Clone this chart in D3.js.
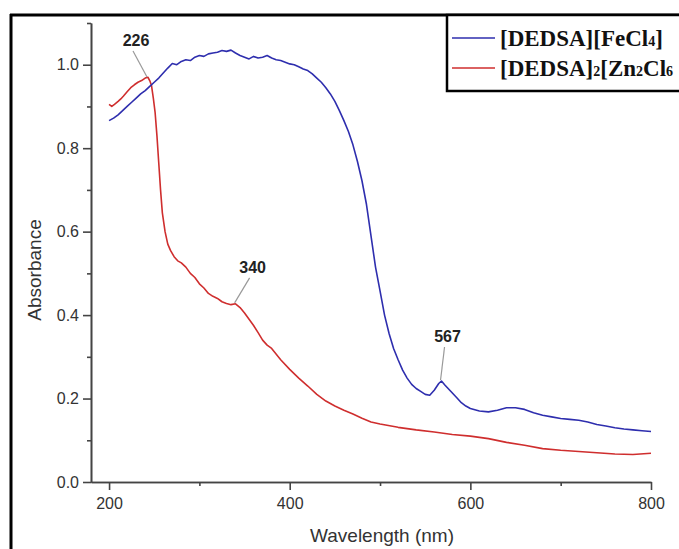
<!DOCTYPE html>
<html>
<head>
<meta charset="utf-8">
<script src="https://cdn.jsdelivr.net/npm/d3@7"></script>
<style>
  body { margin: 0; background: #fff; }
  svg { display: block; }
</style>
</head>
<body>
<svg id="chart" width="679" height="549"></svg>
<script>
//-- data --//
var feWave = [200,205,210,215,220,225,230,235,240,245,250,255,260,265,270,275,280,285,290,295,300,305,310,315,320,325,330,335,340,345,350,355,360,365,370,375,380,385,390,395,400,405,410,415,420,425,430,435,440,445,450,455,460,465,470,475,480,485,490,495,500,505,510,515,520,525,530,535,540,545,550,555,560,565,568,572,578,585,590,595,600,610,620,630,640,650,660,670,680,690,700,710,720,730,740,750,760,770,780,790,800];
var feAbs  = [.866,.872,.880,.890,.900,.910,.920,.930,.938,.948,.958,.968,.980,.992,1.003,1.000,1.008,1.012,1.010,1.018,1.022,1.020,1.026,1.028,1.030,1.034,1.032,1.035,1.028,1.022,1.018,1.014,1.020,1.016,1.018,1.022,1.016,1.012,1.010,1.006,1.002,1.000,.995,.990,.986,.978,.968,.958,.945,.930,.912,.890,.866,.840,.808,.768,.722,.665,.590,.515,.458,.400,.356,.320,.293,.268,.249,.234,.224,.217,.210,.208,.220,.236,.242,.232,.218,.202,.190,.182,.176,.170,.168,.172,.178,.178,.174,.166,.160,.156,.152,.150,.148,.144,.138,.134,.130,.127,.125,.123,.121];

var znWave = [200,203,206,210,213,216,220,224,228,232,236,240,243,245,247,249,251,253,255,257,259,262,265,268,272,276,280,285,290,295,300,305,310,315,320,325,330,335,340,345,350,355,360,365,370,375,380,390,400,410,420,430,440,450,460,470,480,490,500,520,540,560,580,600,620,640,660,680,700,720,740,760,780,800];
var znAbs  = [.905,.900,.905,.912,.918,.925,.935,.945,.952,.958,.962,.968,.970,.962,.950,.920,.885,.830,.765,.700,.645,.600,.570,.555,.540,.530,.525,.515,.500,.490,.475,.465,.452,.445,.440,.432,.428,.425,.427,.418,.405,.390,.375,.358,.340,.328,.320,.293,.270,.249,.230,.210,.194,.182,.172,.163,.153,.144,.139,.131,.125,.120,.114,.110,.104,.095,.088,.080,.076,.073,.070,.067,.066,.069];

var seriesNames = ["[DEDSA][FeCl4]", "[DEDSA]2[Zn2Cl6"];
var seriesColors = ["#2e2eae", "#cf2e2e"];

var xTicks = [200, 400, 600, 800];
var xMinor = [300, 500, 700];
var yTicks = [0.0, 0.2, 0.4, 0.6, 0.8, 1.0];
var yMinor = [0.1, 0.3, 0.5, 0.7, 0.9, 1.1];

// peak labels: [label, wavelength, absorbance at peak]
var peakLabels = ["226", "340", "567"];
var peakWave   = [242, 339, 567];
var peakAbs    = [0.968, 0.427, 0.242];
//-- data --//

var svg = d3.select("#chart");

//--scales--//
var x = d3.scaleLinear().domain([180, 800]).range([91, 651]);
var y = d3.scaleLinear().domain([0, 1.1]).range([482, 23]);

//--outer frame--//
svg.append("line").attr("x1", 11).attr("x2", 11).attr("y1", 14).attr("y2", 549)
  .attr("stroke", "#000").attr("stroke-width", 3);
svg.append("line").attr("x1", 10).attr("x2", 679).attr("y1", 15).attr("y2", 15)
  .attr("stroke", "#000").attr("stroke-width", 3);

//--axes--//
var axisColor = "#444";

svg.append("g").attr("transform", "translate(0,482)")
  .call(d3.axisBottom(x).tickValues(xTicks).tickSize(8).tickSizeOuter(0).tickPadding(8).tickFormat(d3.format("d")));
svg.append("g").attr("transform", "translate(0,482)")
  .call(d3.axisBottom(x).tickValues(xMinor).tickSize(4).tickSizeOuter(0).tickFormat(""));

svg.append("g").attr("transform", "translate(91,0)")
  .call(d3.axisLeft(y).tickValues(yTicks).tickSize(8).tickSizeOuter(0).tickPadding(4).tickFormat(d3.format(".1f")));
svg.append("g").attr("transform", "translate(91,0)")
  .call(d3.axisLeft(y).tickValues(yMinor).tickSize(4).tickSizeOuter(0).tickFormat(""));

svg.selectAll(".domain, .tick line")
  .attr("stroke", axisColor).attr("stroke-width", 1.6);
svg.selectAll(".tick text")
  .attr("fill", "#333")
  .style("font-family", "Liberation Sans, Arial, sans-serif")
  .style("font-size", "16px");

svg.append("text")
  .attr("x", 382).attr("y", 542)
  .attr("text-anchor", "middle")
  .attr("fill", "#333")
  .style("font-family", "Liberation Sans, Arial, sans-serif")
  .style("font-size", "19px")
  .text("Wavelength (nm)");

svg.append("text")
  .attr("transform", "translate(41,270) rotate(-90)")
  .attr("text-anchor", "middle")
  .attr("fill", "#333")
  .style("font-family", "Liberation Sans, Arial, sans-serif")
  .style("font-size", "19px")
  .text("Absorbance");

//--lines--//
var line = d3.line()
  .x(d => x(d[0]))
  .y(d => y(d[1]));

var series = [d3.zip(feWave, feAbs), d3.zip(znWave, znAbs)];

// red drawn first so the blue sits on top, as in the picture
[1, 0].forEach(function(i) {
  svg.append("path")
    .datum(series[i])
    .attr("fill", "none")
    .attr("stroke", seriesColors[i])
    .attr("stroke-width", 1.6)
    .attr("stroke-linejoin", "round")
    .attr("d", line);
});

//--peak annotations--//
var labelOffsets = [[-11, -32], [18, -31], [7, -39]];

peakLabels.forEach(function(lab, i) {
  var px = x(peakWave[i]), py = y(peakAbs[i]);
  var tx = px + labelOffsets[i][0], ty = py + labelOffsets[i][1];
  svg.append("line")
    .attr("x1", px).attr("y1", py - 1)
    .attr("x2", tx - 3).attr("y2", ty + 5)
    .attr("stroke", "#999").attr("stroke-width", 1.2);
  svg.append("text")
    .attr("x", tx).attr("y", ty)
    .attr("text-anchor", "middle")
    .attr("fill", "#222")
    .style("font-family", "Liberation Sans, Arial, sans-serif")
    .style("font-weight", "bold")
    .style("font-size", "16px")
    .text(lab);
});

//--legend--//
var legend = svg.append("g");
legend.append("rect")
  .attr("x", 447).attr("y", 15)
  .attr("width", 260).attr("height", 76)
  .attr("fill", "#fff")
  .attr("stroke", "#000").attr("stroke-width", 2.5);

function legendText(g, parts) {
  var t = g.append("text")
    .style("font-family", "Liberation Serif, Times New Roman, serif")
    .style("font-weight", "bold")
    .style("font-size", "23px")
    .attr("fill", "#111");
  parts.forEach(function(p) {
    var s = t.append("tspan").text(p[0]);
    if (p[1]) s.style("font-size", "14px");
  });
  return t;
}

// the box runs off the right edge in the picture, so the second name ends at "Cl6"
var legendParts = [
  [["[DEDSA][FeCl", 0], ["4", 1], ["]", 0]],
  [["[DEDSA]", 0], ["2", 1], ["[Zn", 0], ["2", 1], ["Cl", 0], ["6", 1]]
];

[0, 1].forEach(function(i) {
  var ly = 38 + i * 30;
  legend.append("line")
    .attr("x1", 452).attr("x2", 495)
    .attr("y1", ly).attr("y2", ly)
    .attr("stroke", seriesColors[i]).attr("stroke-width", 1.6);
  legendText(legend, legendParts[i])
    .attr("x", 500).attr("y", ly + 8);
});
</script>
</body>
</html>
